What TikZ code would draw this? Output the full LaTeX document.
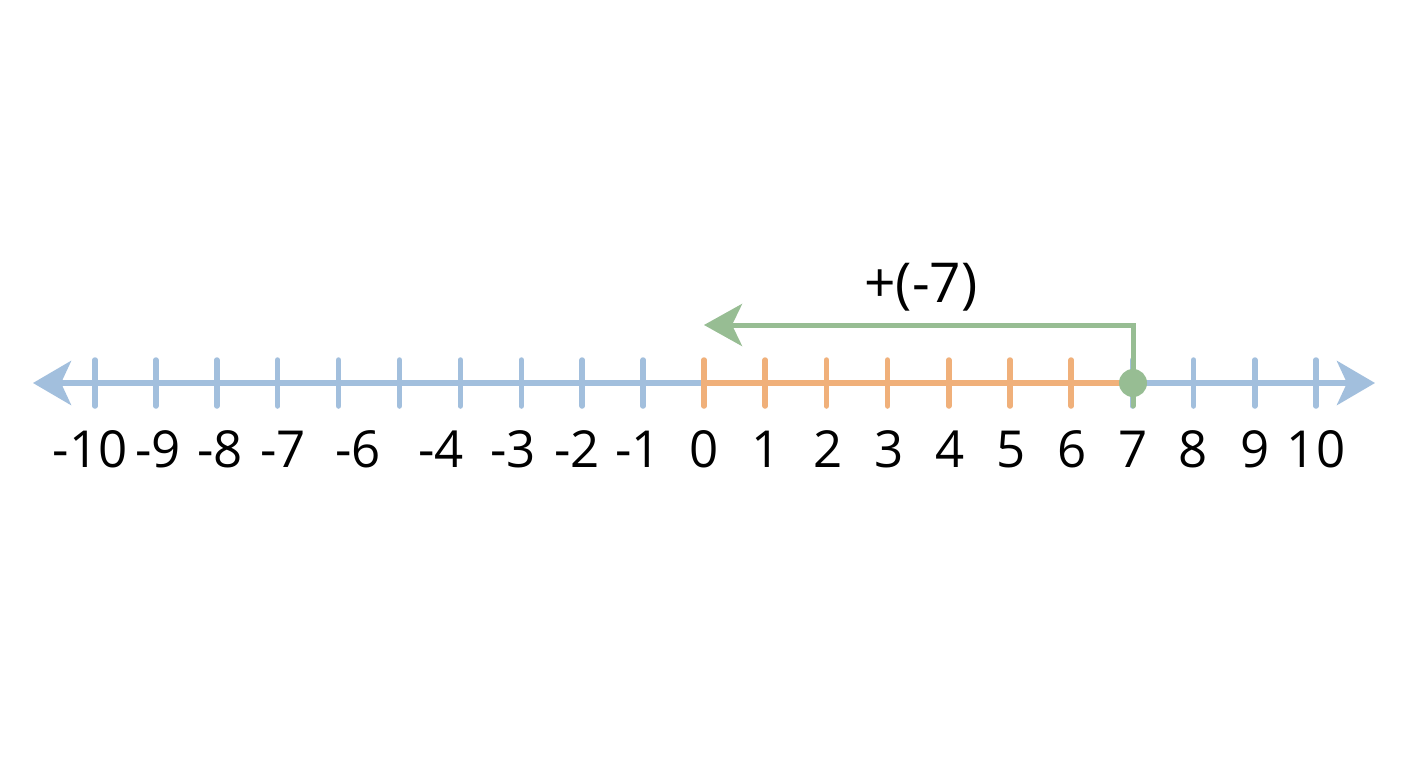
\documentclass[tikz,border=0pt]{standalone}
\usepackage{fontspec}
\setmainfont{Open Sans}
\usetikzlibrary{arrows.meta}
\definecolor{axblue}{HTML}{A2BFDD}
\definecolor{axorange}{HTML}{F0B07A}
\definecolor{axgreen}{HTML}{97BD93}
\begin{document}
\begin{tikzpicture}[x=1pt,y=-1pt,
  axis/.style={line width=6pt,color=axblue},
  tickmark/.style={line width=5.5pt,line cap=round},
  numlbl/.style={anchor=base,inner sep=0pt,font=\fontsize{51}{56}\selectfont},
  movearrow/.style={line width=5pt,color=axgreen,-{Stealth[length=38pt,width=42pt,inset=10pt]}}]
\useasboundingbox (0,0) rectangle (1408,768);
\fill[white] (0,0) rectangle (1408,768);
% axis
\coordinate (L) at (33,383);
\coordinate (R) at (1375,383);
\draw[axis,{Stealth[length=38pt,width=44pt,inset=10pt]}-{Stealth[length=38pt,width=44pt,inset=10pt]}] (L) -- (R);
% orange segment
\coordinate (zero) at (704,383);
\coordinate (seven) at (1133,383);
\draw[line width=6pt,color=axorange] (zero) -- (seven);
% ticks
\foreach \i in {-10,...,10}{
  \pgfmathsetmacro{\xx}{\i<0 ? 704+60.9*\i : 704+61.2*\i}
  \ifnum\i<0 \def\tc{axblue}\else\ifnum\i<7 \def\tc{axorange}\else\def\tc{axblue}\fi\fi
  \coordinate (t\i) at (\xx,383);
  \draw[tickmark,color=\tc] (\xx,360) -- (\xx,406);
}
% labels
\foreach \n/\x in {-10/90,-9/158,-8/220,-7/283,-6/358,-4/441,-3/513,-2/577,-1/638,0/704,1/766,2/828,3/889,4/950,5/1011,6/1072,7/1133,8/1193,9/1255,10/1316}{
  \node[numlbl] (n\n) at (\x,467) {\n};
}
% green move
\draw[axgreen,tickmark,line width=5pt] (1133,383) -- (1133,406);
\node[circle,fill=axgreen,minimum size=28pt,inner sep=0pt] (dot) at (seven) {};
\coordinate (corner) at (1133,325);
\coordinate (tip) at (704,325);
\draw[movearrow] (dot.center) -- (corner) -- (tip);
\node[numlbl,font=\fontsize{55}{60}\selectfont] (lbl) at (921,302) {+(-7)};
\end{tikzpicture}
\end{document}
